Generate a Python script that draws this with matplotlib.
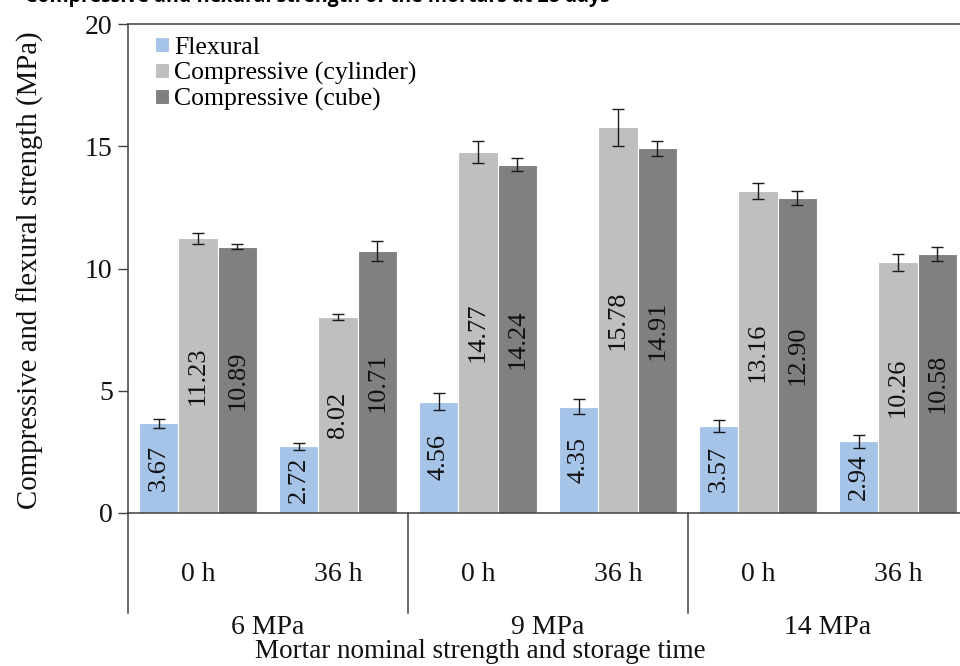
import numpy as np
import matplotlib
matplotlib.use("Agg")
import matplotlib.pyplot as plt
import matplotlib.transforms as mtransforms

# data
time_labels = ["0 h", "36 h", "0 h", "36 h", "0 h", "36 h"]
group_labels = ["6 MPa", "9 MPa", "14 MPa"]
series_names = ["Flexural", "Compressive (cylinder)", "Compressive (cube)"]

flexural = [3.67, 2.72, 4.56, 4.35, 3.57, 2.94]
cylinder = [11.23, 8.02, 14.77, 15.78, 13.16, 10.26]
cube = [10.89, 10.71, 14.24, 14.91, 12.90, 10.58]

flexural_err = [0.18, 0.16, 0.34, 0.31, 0.24, 0.27]
cylinder_err = [0.24, 0.12, 0.45, 0.76, 0.33, 0.35]
cube_err = [0.11, 0.40, 0.26, 0.31, 0.29, 0.29]

colors = ["#A6C3E8", "#BFBFBF", "#808080"]

plt.rcParams['font.family'] = ['Liberation Serif', 'DejaVu Serif']

fig = plt.figure(figsize=(9.6, 6.66), dpi=100)
ax = fig.add_axes([128 / 960, 1 - 513 / 666, 840 / 960, 489 / 666])

x = np.arange(len(time_labels))
width = 0.28
all_vals = [flexural, cylinder, cube]
all_errs = [flexural_err, cylinder_err, cube_err]

for i, (vals, errs) in enumerate(zip(all_vals, all_errs)):
    pos = x + (i - 1) * width
    ax.bar(pos, vals, width, color=colors[i], edgecolor='white',
           linewidth=0.8, label=series_names[i], zorder=2)
    ax.errorbar(pos, vals, yerr=errs, fmt='none', ecolor='#1a1a1a',
                elinewidth=1.0, capsize=4.5, capthick=1.0, zorder=3)
    for xp, v in zip(pos, vals):
        ax.text(xp, v / 2, f"{v:.2f}", rotation=90, ha='center', va='center',
                fontsize=19, color='#111111', zorder=4)

ax.set_xlim(-0.5, len(time_labels) - 0.5)
ax.set_ylim(0, 20)
ax.set_yticks([0, 5, 10, 15, 20])
ax.tick_params(axis='y', labelsize=20, length=7, width=1, color='#404040',
               pad=4, labelcolor='#111111')
ax.set_xticks(x)
ax.set_xticklabels(time_labels, fontsize=20, color='#111111')
ax.tick_params(axis='x', length=0, pad=35)

for side in ['left', 'bottom', 'top']:
    ax.spines[side].set_color('#404040')
    ax.spines[side].set_linewidth(1.1)
ax.spines['right'].set_visible(False)

# group separators and group labels below the axis
trans = mtransforms.blended_transform_factory(ax.transData, ax.transAxes)
for b in [-0.5, 1.5, 3.5, 5.5]:
    ax.plot([b, b], [0, -100 / 489], transform=trans, color='#404040',
            linewidth=1.1, clip_on=False)
for g, name in enumerate(group_labels):
    ax.text(2 * g + 0.5, -115 / 489, name, transform=trans, ha='center',
            va='center', fontsize=20, color='#111111')

ax.set_ylabel("Compressive and flexural strength (MPa)", fontsize=20.8, color='#111111')
ax.yaxis.set_label_coords(-84 / 840, 0.497)
fig.text(480 / 960, 1 - 652 / 666, "Mortar nominal strength and storage time",
         ha='center', va='center', fontsize=19.5, color='#111111')

ax.legend(loc='upper left', bbox_to_anchor=(0.02, 0.995), frameon=False,
          fontsize=18.5, handlelength=0.55, handleheight=0.55,
          handletextpad=0.2, labelspacing=0.12, borderaxespad=0)

fig.text(25 / 960, 1 - 2 / 666, "Compressive and flexural strength of the mortars at 28 days",
         ha='left', va='baseline', fontsize=14, fontweight='bold',
         family=['Open Sans', 'DejaVu Sans'])

fig.savefig("out.png", dpi=100)
